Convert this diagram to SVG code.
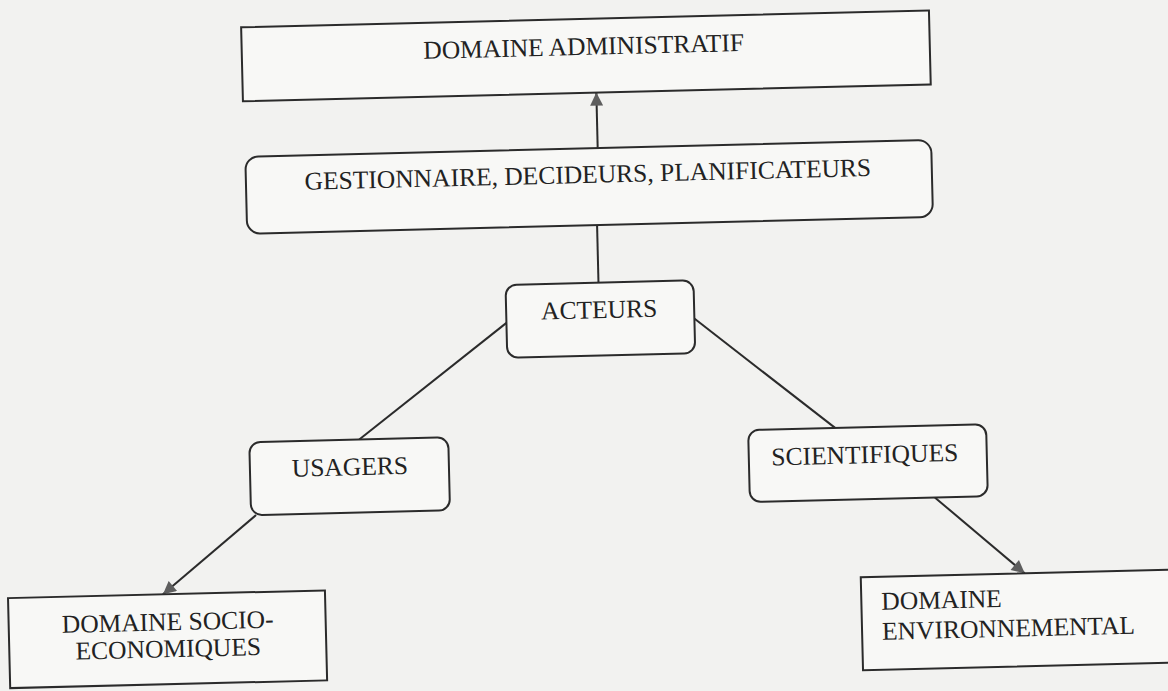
<svg xmlns="http://www.w3.org/2000/svg" width="1168" height="691" viewBox="0 0 1168 691">
<defs>
<style>
.box{fill:#f8f8f6;stroke:#2b2b2b;stroke-width:2}
.t{font-family:"Liberation Serif","Times New Roman",serif;font-size:25.5px;fill:#222}
.c{stroke:#2b2b2b;stroke-width:2;fill:none}
</style>
<marker id="ah" viewBox="0 0 10 10" refX="10" refY="5" markerWidth="16" markerHeight="13" orient="auto" markerUnits="userSpaceOnUse">
<path d="M0,0 L10,5 L0,10 z" fill="#5e5e5e"/>
</marker>
</defs>
<rect width="1168" height="691" fill="#f2f2f0"/>
<g transform="rotate(-1.4 584 345)">
<g id="connectors">
<line class="c" x1="602.5" y1="148.5" x2="602.5" y2="93" marker-end="url(#ah)"/>
<line class="c" x1="600" y1="283" x2="600" y2="225.5"/>
<line class="c" x1="507" y1="321" x2="357" y2="434"/>
<line class="c" x1="694" y1="320.5" x2="833" y2="434"/>
<line class="c" x1="252" y1="507" x2="157" y2="584" marker-end="url(#ah)"/>
<line class="c" x1="931" y1="506" x2="1019" y2="584" marker-end="url(#ah)"/>
</g>
<g id="domaine-administratif">
<rect class="box" x="249" y="19" width="688" height="74"/>
<text class="t" x="591" y="55" text-anchor="middle">DOMAINE ADMINISTRATIF</text>
</g>
<g id="gestionnaire">
<rect class="box" x="250" y="148.5" width="686" height="77" rx="13"/>
<text class="t" x="592" y="183" text-anchor="middle">GESTIONNAIRE, DECIDEURS, PLANIFICATEURS</text>
</g>
<g id="acteurs">
<rect class="box" x="507" y="283" width="188" height="73" rx="11"/>
<text class="t" x="600" y="318.5" text-anchor="middle">ACTEURS</text>
</g>
<g id="usagers">
<rect class="box" x="247" y="434" width="199" height="73" rx="11"/>
<text class="t" x="347" y="469.5" text-anchor="middle">USAGERS</text>
</g>
<g id="scientifiques">
<rect class="box" x="746" y="434" width="238" height="72" rx="11"/>
<text class="t" x="862" y="470" text-anchor="middle">SCIENTIFIQUES</text>
</g>
<g id="domaine-socio">
<rect class="box" x="2" y="584" width="317" height="90"/>
<text class="t" x="161" y="620" text-anchor="middle">DOMAINE SOCIO-</text>
<text class="t" x="161" y="647" text-anchor="middle">ECONOMIQUES</text>
</g>
<g id="domaine-env">
<rect class="box" x="855" y="584" width="330" height="93"/>
<text class="t" x="875" y="617">DOMAINE</text>
<text class="t" x="875" y="647">ENVIRONNEMENTAL</text>
</g>
</g>
</svg>
